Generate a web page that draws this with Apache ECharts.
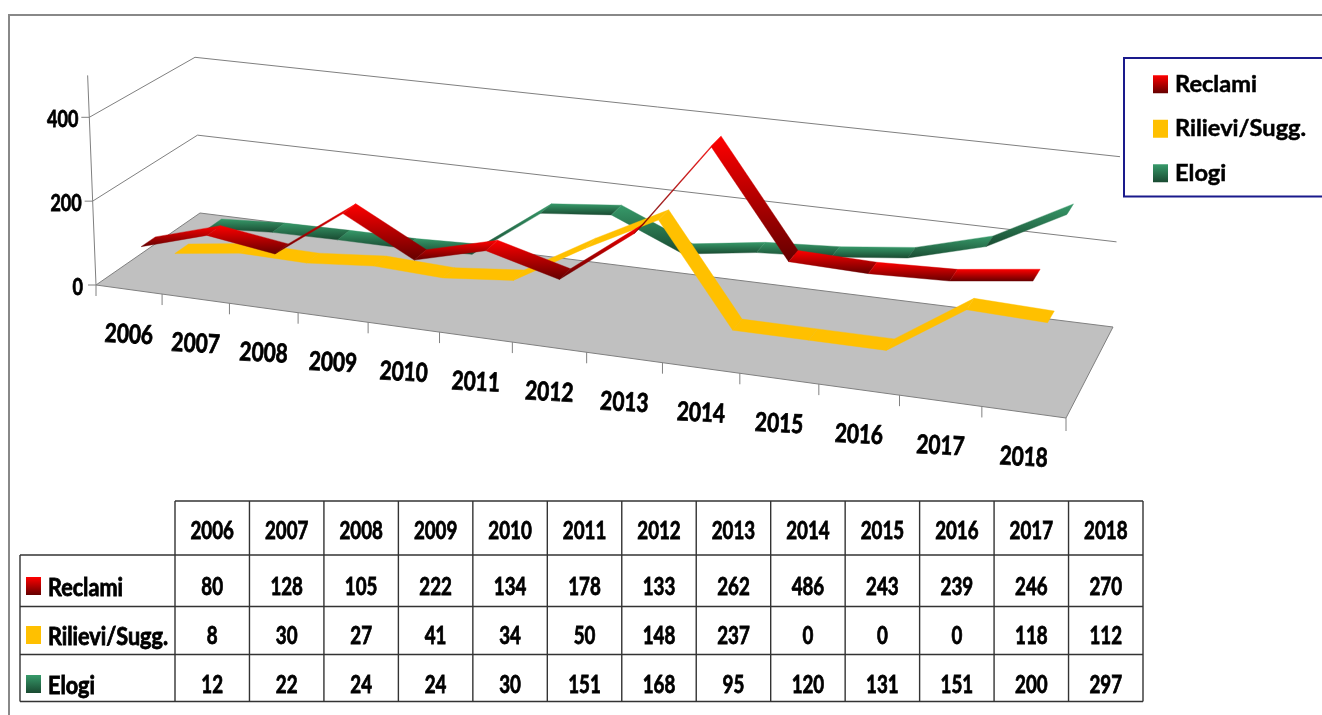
<!DOCTYPE html>
<html><head><meta charset="utf-8">
<style>html,body{margin:0;padding:0;background:#fff}#c{width:1322px;height:715px}</style>
<script src="https://cdn.jsdelivr.net/npm/echarts@6/dist/echarts.min.js"></script>
</head><body><div id="c"></div>
<script>
const categories=['2006','2007','2008','2009','2010','2011','2012','2013','2014','2015','2016','2017','2018'];
const reclami=[80,128,105,222,134,178,133,262,486,243,239,246,270];
const rilievi=[8,30,27,41,34,50,148,237,0,0,0,118,112];
const elogi=[12,22,24,24,30,151,168,95,120,131,151,200,297];
const valueTicks=[0,200,400];
const seriesNames=['Reclami','Rilievi/Sugg.','Elogi'];

const FONT='Lato,"Liberation Sans",sans-serif';
const red=()=>new echarts.graphic.LinearGradient(0,0,0,1,[{offset:0,color:'#FF0000'},{offset:1,color:'#640000'}]);
const green=()=>new echarts.graphic.LinearGradient(0,0,0,1,[{offset:0,color:'#379A6A'},{offset:1,color:'#194A31'}]);
const yellow=()=>'#FFC000';

// perspective box: floor corners and the rise of value 400 at each corner (front-left, front-right, back-right, back-left)
const floorC=[[96,285],[1066,418],[1113,327],[200,213]];
const rise400=[[-6.7,-167.7],[4,-178],[7,-170.3],[-5,-155.7]];
function homog(p){
  const [x0,y0]=p[0],[x1,y1]=p[1],[x2,y2]=p[2],[x3,y3]=p[3];
  const dx1=x1-x2,dx2=x3-x2,sx=x0-x1+x2-x3,dy1=y1-y2,dy2=y3-y2,sy=y0-y1+y2-y3;
  const den=dx1*dy2-dx2*dy1,g=(sx*dy2-dx2*sy)/den,h=(dx1*sy-sx*dy1)/den;
  const a=x1-x0+g*x1,b=x3-x0+h*x3,c=x0,d=y1-y0+g*y1,e=y3-y0+h*y3,f=y0;
  return (u,v)=>{const w=g*u+h*v+1;return [(a*u+b*v+c)/w,(d*u+e*v+f)/w];};
}
const H0=homog(floorC);
function proj(u,d,val){
  const a=H0(u,d),t=val/400;
  const bil=k=>(1-d)*((1-u)*rise400[0][k]+u*rise400[1][k])+d*((1-u)*rise400[3][k]+u*rise400[2][k]);
  return [a[0]+bil(0)*t,a[1]+bil(1)*t];
}
const G={x:0,y:0,width:1300,height:500},VMAX=500,N=categories.length;
const toU=px=>(px-G.x)/G.width;
const toV=py=>(G.y+G.height-py)/G.height*VMAX;
const GRIDC='#808080';
const line=(a,b,w)=>({type:'line',shape:{x1:a[0],y1:a[1],x2:b[0],y2:b[1]},style:{stroke:GRIDC,lineWidth:w||1},silent:true});
const txt=(text,x,y,align,size,sx,rot)=>({type:'text',x,y,scaleX:sx,rotation:rot||0,silent:true,
  style:{text,x:0,y:0,align,verticalAlign:'middle',font:'bold '+size+'px '+FONT,fill:'#000',stroke:'#000',lineWidth:0.8}});

function ribbon(depth,fill){
  const hw=1/15;
  return function(params,api){
    const i=params.dataIndex;
    if(i>=N-1) return null;
    const p=api.coord([api.value(0,i),api.value(1,i)]),q=api.coord([api.value(0,i+1),api.value(1,i+1)]);
    const u0=toU(p[0]),v0=toV(p[1]),u1=toU(q[0]),v1=toV(q[1]);
    const f=fill();
    return {type:'polygon',shape:{points:[proj(u0,depth-hw,v0),proj(u1,depth-hw,v1),proj(u1,depth+hw,v1),proj(u0,depth+hw,v0)]},
      style:{fill:f,stroke:f,lineWidth:0.4}};
  };
}
function renderFloor(){
  return {type:'group',children:[
    {type:'polygon',shape:{points:floorC},style:{fill:'#C0C0C0',stroke:GRIDC,lineWidth:1},silent:true},
    line(proj(0,0,0),proj(0,0,VMAX)),
    line(proj(1,0,0),[proj(1,0,0)[0],proj(1,0,0)[1]+13])
  ]};
}
function renderWall(params,api){
  const val=api.value(0),v=toV(api.coord([0,val])[1]);
  const a=proj(0,0,v),b=proj(0,1,v),c=proj(1,1,v);
  const kids=[line([a[0]-8,a[1]],a),txt(String(val),val?a[0]-11:a[0]-13,val?a[1]+2:a[1]+3,'right',23,0.78)];
  if(v>0){kids.push(line(a,b),line(b,c));}
  return {type:'group',children:kids};
}
function renderCat(params,api){
  const px=api.coord([params.dataIndex,0]);
  const u=toU(px[0]),t=proj(u-0.5/N,0,0),m=proj(u,0,0);
  return {type:'group',children:[line(t,[t[0],t[1]+11]),
    txt(categories[params.dataIndex],m[0],m[1]+45,'center',26,0.8,-0.05)]};
}
// data table
const colX0=175,colW=(1143-175)/N,rowY=[501,555,606.5,654.5,701.5],tableLeft=20;
const rowVals=[reclami,rilievi,elogi],rowFill=[red,yellow,green];
const tableLine=(x1,y1,x2,y2)=>({type:'line',shape:{x1,y1,x2,y2},style:{stroke:'#333',lineWidth:1.4},silent:true});
const gr=[];
gr.push({type:'polyline',shape:{points:[[9,715],[9,15],[1322,15]]},style:{stroke:'#888',fill:null,lineWidth:2},silent:true});
for(let i=0;i<=N;i++)gr.push(tableLine(colX0+i*colW,rowY[0],colX0+i*colW,rowY[4]));
gr.push(tableLine(tableLeft,rowY[1],tableLeft,rowY[4]));
gr.push(tableLine(colX0,rowY[0],1143,rowY[0]));
for(let r=1;r<5;r++)gr.push(tableLine(tableLeft,rowY[r],1143,rowY[r]));
categories.forEach((c,i)=>gr.push(txt(c,colX0+(i+.5)*colW,531,'center',24,0.78)));
const rowCy=[587,636,685];
rowVals.forEach((vals,r)=>{
  gr.push({type:'rect',shape:{x:26,y:rowCy[r]-10,width:15,height:18},style:{fill:rowFill[r]()},silent:true});
  gr.push(txt(seriesNames[r],48,rowCy[r]+1,'left',24,0.9));
  vals.forEach((v,i)=>gr.push(txt(String(v),colX0+(i+.5)*colW,rowCy[r],'center',24,0.78)));
});
const toPairs=a=>a.map((v,i)=>[i,v]);
const chart=echarts.init(document.getElementById('c'));
chart.setOption({
  animation:false,
  backgroundColor:'#fff',
  grid:{left:G.x,top:G.y,width:G.width,height:G.height,show:false},
  xAxis:{type:'category',data:categories,show:false},
  yAxis:{type:'value',min:0,max:VMAX,interval:100,show:false},
  legend:{left:1124,top:58,orient:'vertical',icon:'rect',itemWidth:15,itemHeight:18,itemGap:20,padding:[14,40,11,29],
    borderColor:'#1A1A8C',borderWidth:2,
    textStyle:{fontFamily:'Lato',fontWeight:'bold',fontSize:23.6,color:'#000',padding:[0,0,0,2],textBorderColor:'#000',textBorderWidth:0.5},
    data:[{name:seriesNames[0],itemStyle:{color:red()}},{name:seriesNames[1],itemStyle:{color:'#FFC000'}},{name:seriesNames[2],itemStyle:{color:green()}}]},
  graphic:gr,
  series:[
    {type:'custom',name:'floor',silent:true,clip:false,renderItem:renderFloor,data:[[0]],encode:{x:0,y:-1}},
    {type:'custom',name:'walls',silent:true,clip:false,renderItem:renderWall,data:valueTicks.map(v=>[v]),encode:{y:0}},
    {type:'custom',name:'cats',silent:true,clip:false,renderItem:renderCat,data:categories.map((c,i)=>[i]),encode:{x:0}},
    {type:'custom',name:seriesNames[2],clip:false,renderItem:ribbon(5/6,green),data:toPairs(elogi),encode:{x:0,y:1},itemStyle:{color:'#2D7D55'}},
    {type:'custom',name:seriesNames[1],clip:false,renderItem:ribbon(1/2,yellow),data:toPairs(rilievi),encode:{x:0,y:1},itemStyle:{color:'#FFC000'}},
    {type:'custom',name:seriesNames[0],clip:false,renderItem:ribbon(0.19,red),data:toPairs(reclami),encode:{x:0,y:1},itemStyle:{color:'#FF0000'}}
  ]
});
</script></body></html>
